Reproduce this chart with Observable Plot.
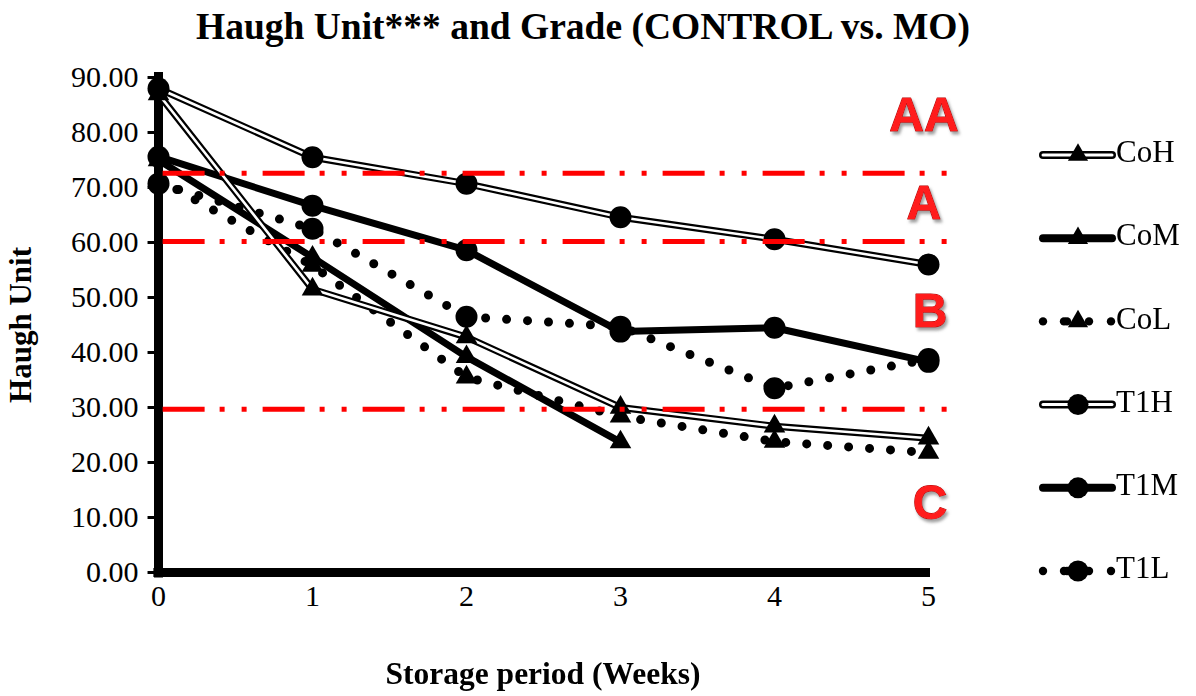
<!DOCTYPE html>
<html>
<head>
<meta charset="utf-8">
<script src="https://cdn.jsdelivr.net/npm/d3@7"></script>
<script src="https://cdn.jsdelivr.net/npm/@observablehq/plot@0.6"></script>
<style>
  body { margin: 0; background: #fff; }
  #wrap { position: relative; width: 1196px; height: 696px; overflow: hidden; }
  #title { position: absolute; left: 583px; top: 6px; transform: translateX(-50%); white-space: nowrap;
           font: bold 37.5px "Liberation Serif", "Times New Roman", serif; color: #000; line-height: 42px; }
  #chart { position: absolute; left: 0; top: 0; }
</style>
</head>
<body>
<div id="wrap">
  <div id="chart"></div>
  <div id="title">Haugh Unit*** and Grade (CONTROL vs. MO)</div>
</div>
<script>
// ---- data ----
const weeks = [0, 1, 2, 3, 4, 5];
const seriesNames = ["CoH", "CoM", "CoL", "T1H", "T1M", "T1L"];
const CoH = [87.0, 51.5, 42.8, 30.0, 26.6, 24.4];
const CoM = [75.0, 57.3, 39.2, 23.7];
const CoL = [71.5, 55.8, 35.5, 28.4, 23.8, 21.8];
const T1H = [88.0, 75.5, 70.7, 64.6, 60.6, 56.0];
const T1M = [75.6, 66.7, 58.6, 43.8, 44.5, 38.3];
const T1L = [70.7, 62.5, 46.5, 44.7, 33.5, 38.8];
const gradeLimits = [72.6, 60.2, 29.7];
const grades = ["AA", "A", "B", "C"];
const gradeLabelY = [83.0, 67.0, 47.5, 12.5];
const gradeLabelX = [4.97, 4.97, 5.01, 5.01];
const yTicks = [0, 10, 20, 30, 40, 50, 60, 70, 80, 90];

// ---- build tables ----
const valuesBySeries = { CoH, CoM, CoL, T1H, T1M, T1L };
const rows = s => valuesBySeries[s].map((v, i) => ({ series: s, week: weeks[i], value: v }));
const style = {
  CoH: { kind: "double", symbol: "triangle" },
  CoM: { kind: "thick", symbol: "triangle" },
  CoL: { kind: "dotted", symbol: "triangle" },
  T1H: { kind: "double", symbol: "circle" },
  T1M: { kind: "thick", symbol: "circle" },
  T1L: { kind: "dotted", symbol: "circle" }
};
const RED = "#ff0000";
const DASH = "42,15,5,17,5,16";

function lineMarks(s) {
  const d = rows(s), k = style[s].kind;
  const base = { x: "week", y: "value", curve: "linear", strokeLinejoin: "round" };
  if (k === "double") return [
    Plot.line(d, { ...base, stroke: "black", strokeWidth: 7 }),
    Plot.line(d, { ...base, stroke: "white", strokeWidth: 2.6 })
  ];
  if (k === "thick") return [Plot.line(d, { ...base, stroke: "black", strokeWidth: 7 })];
  return [Plot.line(d, { ...base, stroke: "black", strokeWidth: 9, strokeDasharray: "0,21", strokeLinecap: "round" })];
}
function dotMarks(s) {
  const d = rows(s), sym = style[s].symbol;
  return [Plot.dot(d, { x: "week", y: "value", symbol: sym, r: sym === "triangle" ? 8 : 11, fill: "black", stroke: "none" })];
}
const order = ["T1L", "CoL", "CoM", "T1M", "CoH", "T1H"];
const gradeData = grades.map((g, i) => ({ g, x: gradeLabelX[i], y: gradeLabelY[i] }));

const chart = Plot.plot({
  width: 1196,
  height: 696,
  marginLeft: 158,
  marginRight: 268,
  marginTop: 77,
  marginBottom: 124,
  style: { fontFamily: "'Liberation Serif', 'Times New Roman', serif", fontSize: "30px", color: "black", background: "white", overflow: "visible" },
  x: { domain: [0, 5], ticks: weeks, tickFormat: d => String(d), tickSize: 0, tickPadding: 12, label: null },
  y: { domain: [0, 90], ticks: yTicks, tickFormat: d3.format(".2f"), tickSize: 0, tickPadding: 20, label: null },
  marks: [
    Plot.ruleY(yTicks, { x1: -0.068, x2: 0, stroke: "black", strokeWidth: 3 }),
    Plot.ruleX([0], { y1: -1, y2: 90.9, stroke: "black", strokeWidth: 9 }),
    Plot.ruleY([0], { x1: -0.03, x2: 5.013, stroke: "black", strokeWidth: 9 }),
    ...order.flatMap(lineMarks),
    ...order.flatMap(dotMarks),
    Plot.ruleY(gradeLimits, { x1: 0.03, x2: 5.2, stroke: RED, strokeWidth: 5, strokeDasharray: DASH }),
    Plot.text(gradeData, { x: "x", y: "y", text: "g", fill: "#ff1f1f", stroke: "#b30000", strokeWidth: 1,
      fontFamily: "'Liberation Sans', Arial, sans-serif", fontWeight: "bold", fontSize: 48, textAnchor: "middle", lineAnchor: "middle" })
  ]
});
document.getElementById("chart").appendChild(chart);

// ---- decorations: shadow, axis titles, legend ----
const svg = d3.select(chart);
const defs = svg.append("defs");
const f = defs.append("filter").attr("id", "gshadow").attr("x", "-20%").attr("y", "-20%").attr("width", "150%").attr("height", "150%");
f.append("feDropShadow").attr("dx", 2).attr("dy", 3).attr("stdDeviation", 1.5).attr("flood-color", "#777").attr("flood-opacity", 0.7);
svg.selectAll("g[aria-label='text']").attr("filter", "url(#gshadow)");

svg.append("text").attr("transform", "translate(24,325) rotate(-90)")
  .attr("text-anchor", "middle").attr("dominant-baseline", "middle")
  .attr("font-family", "'Liberation Serif', serif").attr("font-weight", "bold").attr("font-size", 31)
  .text("Haugh Unit");
svg.append("text").attr("x", 543).attr("y", 677)
  .attr("text-anchor", "middle").attr("dominant-baseline", "middle")
  .attr("font-family", "'Liberation Serif', serif").attr("font-weight", "bold").attr("font-size", 31.5)
  .text("Storage period (Weeks)");

const leg = svg.append("g");
seriesNames.forEach((s, i) => {
  const y = 155 + i * 83.2, x1 = 1043, x2 = 1112, xm = 1078;
  const g = leg.append("g");
  const k = style[s].kind;
  if (k === "double") {
    g.append("line").attr("x1", x1).attr("x2", x2).attr("y1", y).attr("y2", y).attr("stroke", "black").attr("stroke-width", 8).attr("stroke-linecap", "round");
    g.append("line").attr("x1", x1).attr("x2", x2).attr("y1", y).attr("y2", y).attr("stroke", "white").attr("stroke-width", 3).attr("stroke-linecap", "round");
  } else if (k === "thick") {
    g.append("line").attr("x1", x1).attr("x2", x2).attr("y1", y).attr("y2", y).attr("stroke", "black").attr("stroke-width", 8).attr("stroke-linecap", "round");
  } else {
    [x1, x1 + 21, xm - 11, xm + 11, x2 - 1].forEach(cx =>
      g.append("circle").attr("cx", cx).attr("cy", y).attr("r", 4.2).attr("fill", "black"));
  }
  const sym = style[s].symbol === "triangle" ? d3.symbolTriangle : d3.symbolCircle;
  const r = style[s].symbol === "triangle" ? 7.5 : 10.5;
  g.append("path").attr("d", d3.symbol(sym, r * r * Math.PI)()).attr("transform", `translate(${xm},${y})`).attr("fill", "black");
  g.append("text").attr("x", 1116).attr("y", y).attr("dominant-baseline", "middle").attr("text-anchor", "start")
    .attr("font-family", "'Liberation Serif', serif").attr("font-size", 31).text(s);
});
</script>
</body>
</html>
